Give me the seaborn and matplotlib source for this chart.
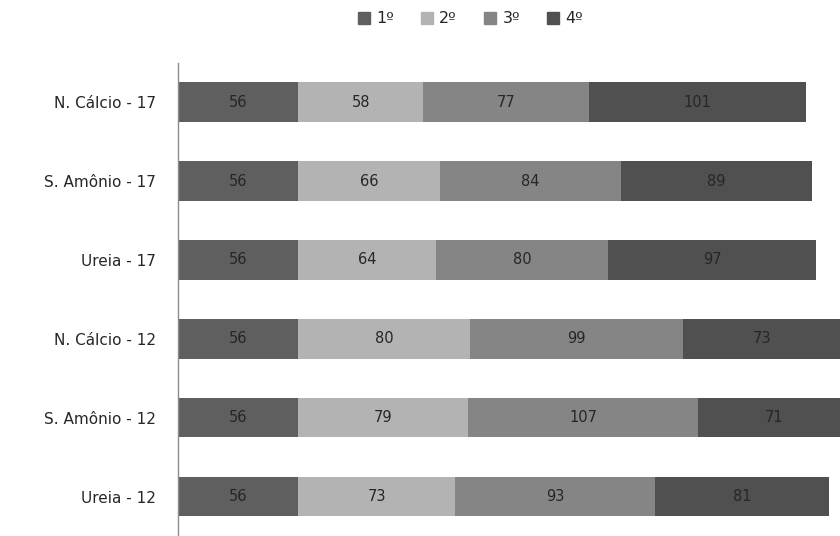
import matplotlib
matplotlib.use("Agg")
import matplotlib.pyplot as plt
import matplotlib.patches as mpatches
import seaborn as sns
import pandas as pd
import numpy as np

categories = ["N. Cálcio - 17", "S. Amônio - 17", "Ureia - 17",
              "N. Cálcio - 12", "S. Amônio - 12", "Ureia - 12"]
series_names = ["1º", "2º", "3º", "4º"]
s1 = [56, 56, 56, 56, 56, 56]
s2 = [58, 66, 64, 80, 79, 73]
s3 = [77, 84, 80, 99, 107, 93]
s4 = [101, 89, 97, 73, 71, 81]
colors = ["#5f5f5f", "#b3b3b3", "#858585", "#505050"]

sns.set_theme(style="white")
plt.rcParams['font.family'] = ['DejaVu Sans']

fig = plt.figure(figsize=(8.4, 5.36), dpi=100)
ax = fig.add_axes([0.212, 0.0, 0.788, 0.883])

vals = np.array([s1, s2, s3, s4])
cums = np.cumsum(vals, axis=0)

# draw in reverse so earlier segments overlay later cumulative bars
for k in range(3, -1, -1):
    df = pd.DataFrame({"cat": categories, "total": cums[k]})
    sns.barplot(data=df, x="total", y="cat", order=categories, orient="h",
                color=colors[k], saturation=1, width=0.5, ax=ax, linewidth=0)

for k in range(4):
    for i, cat in enumerate(categories):
        ax.text(cums[k][i] - vals[k][i] / 2, i, str(vals[k][i]),
                ha="center", va="center", fontsize=10.5, color="#262626")

ax.set_xlim(0, 308)
ax.set_ylim(5.5, -0.5)
ax.set_xlabel("")
ax.set_ylabel("")
ax.set_xticks([])
ax.tick_params(axis="y", length=0, labelsize=11, labelcolor="#262626", pad=16)
for sp in ["top", "right", "bottom"]:
    ax.spines[sp].set_visible(False)
ax.spines["left"].set_color("#8c8c8c")
ax.spines["left"].set_linewidth(1)

handles = [mpatches.Patch(color=c, label=n) for c, n in zip(colors, series_names)]
fig.legend(handles=handles, loc="center", bbox_to_anchor=(0.56, 0.965), ncol=4,
           frameon=False, fontsize=11.5, handlelength=0.75, handleheight=0.75,
           handletextpad=0.4, columnspacing=1.7, labelcolor="#262626")

fig.savefig("out.png", dpi=100, facecolor="white")
